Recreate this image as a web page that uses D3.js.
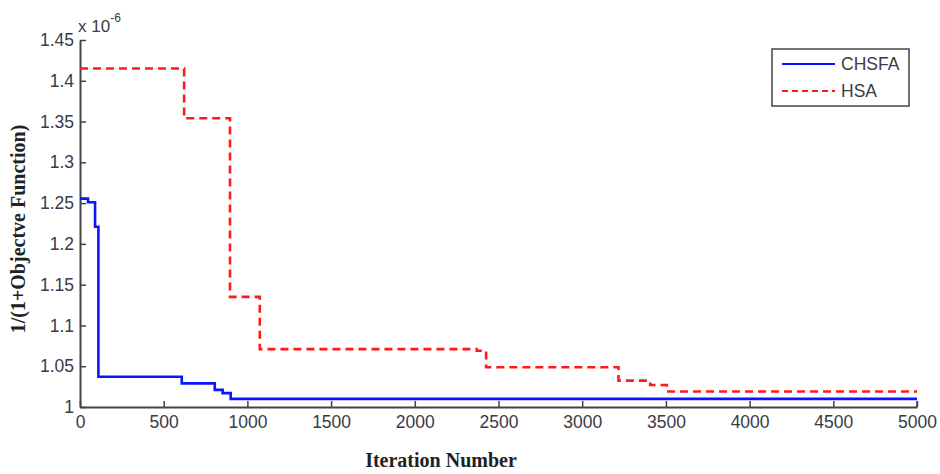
<!DOCTYPE html>
<html><head><meta charset="utf-8">
<script src="https://cdn.jsdelivr.net/npm/d3@7"></script>
<style>body{margin:0;background:#fff}svg{display:block}</style>
</head><body>
<svg id="c" width="940" height="474"></svg>
<script>
// Step data: [iteration, value (x 1e-6)]
const chsfaIter = [0, 48, 90, 110, 608, 805, 852, 900, 5000];
const chsfaVal  = [1.2555, 1.251, 1.221, 1.037, 1.029, 1.021, 1.017, 1.010, 1.010];
const hsaIter = [0, 622, 896, 1074, 2370, 2426, 3217, 3406, 3506, 5000];
const hsaVal  = [1.415, 1.354, 1.135, 1.071, 1.069, 1.0488, 1.0323, 1.027, 1.019, 1.019];
const xTicks = [0, 500, 1000, 1500, 2000, 2500, 3000, 3500, 4000, 4500, 5000];
const yTicks = [1, 1.05, 1.1, 1.15, 1.2, 1.25, 1.3, 1.35, 1.4, 1.45];
const seriesNames = ["CHSFA", "HSA"];

const svg = d3.select("#c");
const m = {l: 80, r: 23, t: 40, b: 67};
const W = 940, H = 474;
const x = d3.scaleLinear().domain([0, 5000]).range([m.l, W - m.r]);
const y = d3.scaleLinear().domain([1, 1.45]).range([H - m.b, m.t]);

const tickColor = "#3a3a48";
const sans = "Liberation Sans, Arial, sans-serif";
const serif = "Liberation Serif, Times New Roman, serif";
const xAxis = d3.axisBottom(x).tickValues(xTicks).tickSizeInner(-6).tickSizeOuter(0).tickPadding(9).tickFormat(d3.format("d"));
const yAxis = d3.axisLeft(y).tickValues(yTicks).tickSizeInner(-6).tickSizeOuter(0).tickPadding(6).tickFormat(d => d3.format("")(+d.toFixed(2)));

const gx = svg.append("g").attr("transform", `translate(0,${H - m.b})`).call(xAxis);
const gy = svg.append("g").attr("transform", `translate(${m.l},0)`).call(yAxis);
[gx, gy].forEach(g => {
  g.select(".domain").attr("stroke", "#444").attr("stroke-width", 2);
  g.selectAll(".tick line").attr("stroke", "#444").attr("stroke-width", 1.5);
  g.selectAll(".tick text").attr("fill", tickColor).attr("font-family", sans).attr("font-size", 17.5);
});
// right-end small tick on x axis
svg.append("line").attr("x1", x(5000)).attr("x2", x(5000)).attr("y1", H - m.b).attr("y2", H - m.b - 6).attr("stroke", "#444").attr("stroke-width", 1.5);

// exponent label
const ex = svg.append("text").attr("x", 78).attr("y", 32).attr("font-family", sans).attr("font-size", 17).attr("fill", tickColor);
ex.append("tspan").text("x 10");
ex.append("tspan").attr("dy", -10).attr("font-size", 12).text("-6");

const line = d3.line().curve(d3.curveStepAfter).x(d => x(d[0])).y(d => y(d[1]));
const chsfa = chsfaIter.map((t, i) => [t, chsfaVal[i]]);
const hsa = hsaIter.map((t, i) => [t, hsaVal[i]]);

svg.append("path").datum(hsa).attr("d", line).attr("fill", "none").attr("stroke", "#ff1a1a").attr("stroke-width", 2.6).attr("stroke-dasharray", "8,5");
svg.append("path").datum(chsfa).attr("d", line).attr("fill", "none").attr("stroke", "#0a14ff").attr("stroke-width", 2.6);

// axis labels
svg.append("text").attr("x", 441).attr("y", 467).attr("text-anchor", "middle")
  .attr("font-family", serif).attr("font-weight", "bold").attr("font-size", 20).attr("fill", "#222")
  .text("Iteration Number");
svg.append("text").attr("transform", `translate(25,229) rotate(-90)`).attr("text-anchor", "middle")
  .attr("font-family", serif).attr("font-weight", "bold").attr("font-size", 20).attr("fill", "#222")
  .text("1/(1+Objectve Function)");

// legend
const lg = svg.append("g");
lg.append("rect").attr("x", 772).attr("y", 49).attr("width", 137).attr("height", 57).attr("fill", "#fff").attr("stroke", "#444").attr("stroke-width", 1.5);
const colors = ["#0a14ff", "#ff1a1a"];
const dashes = [null, "6,4"];
seriesNames.forEach((n, i) => {
  const yy = 64 + i * 27;
  lg.append("line").attr("x1", 782).attr("x2", 835).attr("y1", yy).attr("y2", yy)
    .attr("stroke", colors[i]).attr("stroke-width", 2.2).attr("stroke-dasharray", dashes[i]);
  lg.append("text").attr("x", 841).attr("y", yy + 6).attr("font-family", sans).attr("font-size", 17.5).attr("fill", tickColor).text(n);
});
</script>
</body></html>
